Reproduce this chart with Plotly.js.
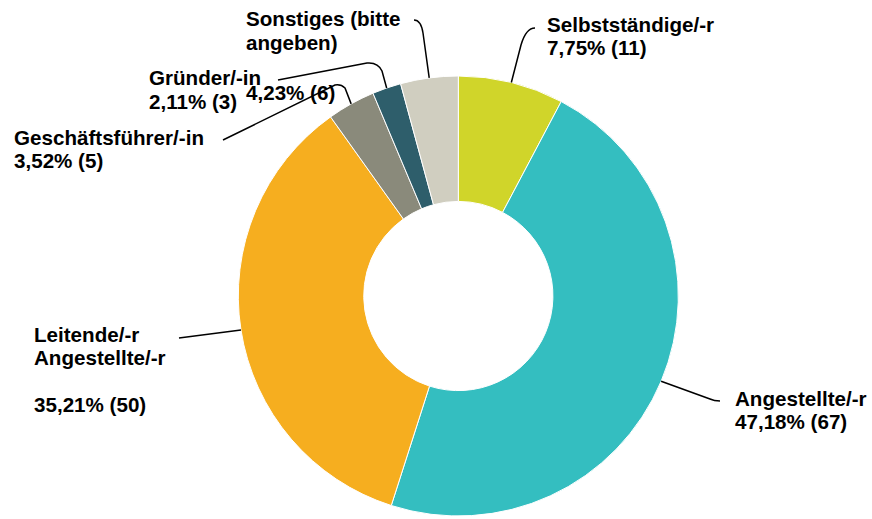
<!DOCTYPE html>
<html>
<head>
<meta charset="utf-8">
<script src="https://cdn.plot.ly/plotly-3.0.1.min.js"></script>
<style>html,body{margin:0;padding:0;background:#fff;}#chart{width:872px;height:519px;}</style>
</head>
<body>
<div id="chart"></div>
<script>
// ---- data ----
const categories = ["Selbstständige/-r", "Angestellte/-r", "Leitende/-r Angestellte/-r", "Geschäftsführer/-in", "Gründer/-in", "Sonstiges (bitte angeben)"];
const counts = [11, 67, 50, 5, 3, 6];
const percentLabels = ["7,75%", "47,18%", "35,21%", "3,52%", "2,11%", "4,23%"];
const labelLines = [
  ["Selbstständige/-r"],
  ["Angestellte/-r"],
  ["Leitende/-r", "Angestellte/-r", ""],
  ["Geschäftsführer/-in"],
  ["Gründer/-in"],
  ["Sonstiges (bitte", "angeben)"]
];
const colors = ["#d0d52a", "#34bec0", "#f6ae1f", "#8a8a7b", "#2e5e6b", "#d0cec0"];

// ---- layout geometry ----
const W = 872, H = 519;
const M = {l: 0, r: 0, t: 76, b: 3};
const dom = [0.06, 0.9912];
const plotW = W - M.l - M.r, plotH = H - M.t - M.b;
const cx = M.l + plotW * (dom[0] + dom[1]) / 2;
const cy = M.t + plotH / 2;
const R = Math.min(plotW * (dom[1] - dom[0]), plotH) / 2;

const px2x = p => (p - M.l) / plotW;
const px2y = p => 1 - (p - M.t) / plotH;

// slice mid-angle edge points (clockwise from 12 o'clock)
const total = counts.reduce((a, b) => a + b, 0);
let cum = 0;
const edge = counts.map(v => {
  const a = (cum + v / 2) / total * 2 * Math.PI;
  cum += v;
  return [cx + R * Math.sin(a), cy - R * Math.cos(a)];
});

// label placement (first baseline, left x) and leader paths (elbow points)
const labelPos = [
  {x: 546, y: 31, valY: null},
  {x: 734, y: 405, valY: null},
  {x: 33, y: 341, valY: null},
  {x: 13, y: 144, valY: null},
  {x: 148, y: 85, valY: null},
  {x: 245, y: 26, valY: 100}
];
const leaders = [
  [["L", 521, 45], ["Q", 526, 28, 535, 28]],
  [["L", 710, 399], ["Q", 714, 401, 720, 401]],
  [["L", 179, 338]],
  [["L", 345, 88], ["Q", 341, 84, 335, 85], ["L", 223, 140]],
  [["L", 382, 71], ["Q", 378, 62, 367, 63], ["L", 278, 80]],
  [["L", 423, 33], ["Q", 421, 20, 414, 20]]
];

const LINE = 23.5, FS = 20.6;
const annotations = [];
const font = {family: "Liberation Sans, Arial, sans-serif", size: FS, color: "#000"};
categories.forEach((c, i) => {
  const p = labelPos[i];
  const lines = labelLines[i].slice();
  const valText = percentLabels[i] + " (" + counts[i] + ")";
  if (p.valY === null) lines.push(valText);
  lines.forEach((t, k) => {
    if (!t) return;
    annotations.push({
      xref: "paper", yref: "paper", x: px2x(p.x), y: px2y(p.y + k * LINE - 7),
      xanchor: "left", yanchor: "middle", showarrow: false, align: "left",
      text: "<b>" + t + "</b>", font: font, borderpad: 0
    });
  });
  if (p.valY !== null) {
    annotations.push({
      xref: "paper", yref: "paper", x: px2x(p.x), y: px2y(p.valY - 7),
      xanchor: "left", yanchor: "middle", showarrow: false, align: "left",
      text: "<b>" + valText + "</b>", font: font, borderpad: 0
    });
  }
});

const shapes = leaders.map((segs, i) => {
  let d = "M" + px2x(edge[i][0]) + "," + px2y(edge[i][1]);
  segs.forEach(s => {
    if (s[0] === "L") d += " L" + px2x(s[1]) + "," + px2y(s[2]);
    else d += " Q" + px2x(s[1]) + "," + px2y(s[2]) + " " + px2x(s[3]) + "," + px2y(s[4]);
  });
  return {type: "path", xref: "paper", yref: "paper", path: d, line: {color: "#000", width: 1.5}};
});

Plotly.newPlot("chart", [{
  type: "pie",
  labels: categories,
  values: counts,
  sort: false,
  direction: "clockwise",
  rotation: 0,
  hole: 0.43,
  textinfo: "none",
  hoverinfo: "label+value+percent",
  marker: {colors: colors, line: {color: "#ffffff", width: 1}},
  domain: {x: dom, y: [0, 1]},
  showlegend: false
}], {
  width: W, height: H,
  margin: M,
  paper_bgcolor: "#fff",
  plot_bgcolor: "#fff",
  showlegend: false,
  annotations: annotations,
  shapes: shapes
}, {displayModeBar: false, staticPlot: true});
</script>
</body>
</html>
